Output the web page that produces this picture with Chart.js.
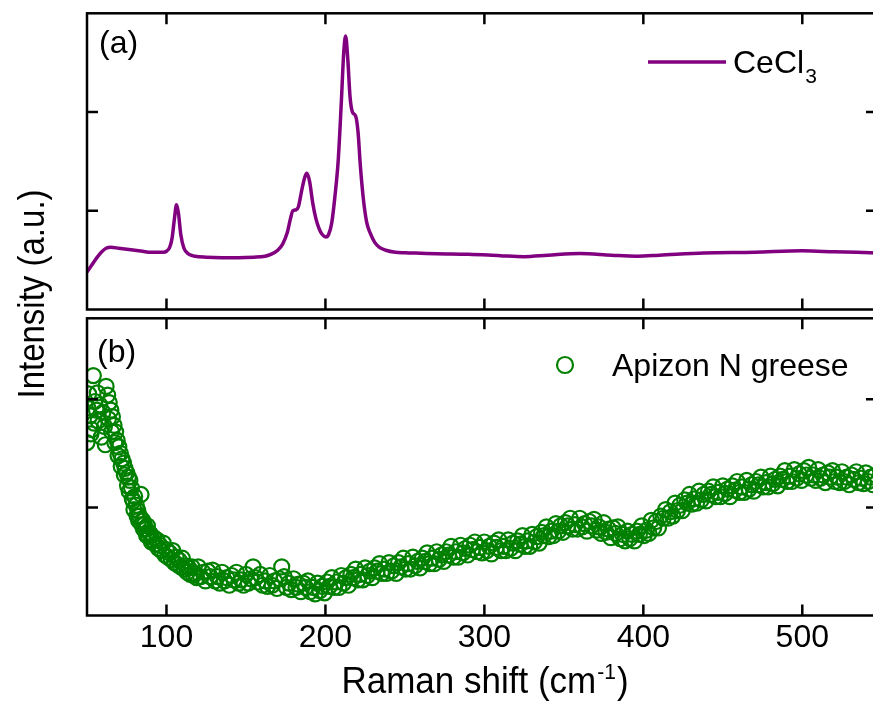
<!DOCTYPE html>
<html>
<head>
<meta charset="utf-8">
<script src="https://cdn.jsdelivr.net/npm/chart.js@4.4.1/dist/chart.umd.min.js"></script>
<style>
html, body { margin: 0; padding: 0; background: #fff; overflow: hidden; }
#wrap { position: relative; width: 873px; height: 713px; overflow: hidden; }
#wrap canvas { position: absolute; left: 0; top: 0; }
</style>
</head>
<body>
<div id="wrap">
  <canvas id="chartB" width="887" height="713"></canvas>
  <canvas id="chartA" width="879" height="713"></canvas>
</div>
<script>
// Tick positions shared by both panels
const xTicks = [100, 200, 300, 400, 500];
const yTicksA = [1, 2];
const yTicksB = [1, 2];

// (a) CeCl3 Raman spectrum
const ceclX = [50, 53, 56, 59, 62, 65, 70, 75, 80, 85, 90, 95, 98, 100, 102, 103.5, 105, 106.3, 107.5, 109, 111, 114, 118,
  125, 135, 145, 155, 162, 166, 170, 173, 176, 178, 179.5, 181.5, 183, 185, 187, 188.3, 190, 192, 194, 196, 198, 200.3,
  202, 204, 206, 208, 210, 211.5, 212.7, 214, 215.5, 217, 219, 220.5, 222, 224, 226, 228, 231, 234, 238, 244, 250, 260,
  270, 290, 310, 325, 340, 360, 380, 396, 410, 438, 470, 500, 520, 547];
const ceclY = [0.38, 0.45, 0.52, 0.58, 0.62, 0.63, 0.62, 0.61, 0.60, 0.59, 0.58, 0.58, 0.58, 0.59, 0.63, 0.72, 0.92, 1.06, 0.98, 0.76, 0.62, 0.56, 0.54,
  0.53, 0.525, 0.525, 0.53, 0.54, 0.56, 0.60, 0.66, 0.78, 0.92, 1.0, 1.01, 1.04, 1.20, 1.34, 1.38, 1.30, 1.08, 0.92, 0.82, 0.76, 0.735,
  0.76, 0.88, 1.15, 1.50, 2.10, 2.60, 2.77, 2.55, 2.15, 2.00, 1.96, 1.80, 1.45, 1.10, 0.88, 0.78, 0.68, 0.63, 0.60, 0.58, 0.575, 0.57,
  0.565, 0.56, 0.545, 0.535, 0.55, 0.567, 0.55, 0.54, 0.55, 0.573, 0.58, 0.594, 0.585, 0.573];

// (b) Apizon N greese spectrum (noisy, read point by point)
const greaseX = [50, 50.5, 51, 52, 52.5, 53, 54, 54.5, 55, 56, 56.5, 57, 58, 59, 60, 61, 61.5, 62, 63, 63.5, 64, 65, 65.5, 66,
  67, 67.5, 68, 69, 69.5, 70, 71, 71.5, 72, 73, 73.5, 74, 75, 75.5, 76, 76.5, 77, 78, 78.5, 79, 79.5, 80, 81, 81.5, 82, 82.5,
  83, 84, 84.5, 85, 85.5, 86, 87, 87.5, 88, 88.5, 89, 90, 90.5, 91, 92, 93, 94, 95, 96, 97, 98, 99, 100, 101, 102, 103, 104,
  105, 106, 107, 108, 109, 110, 111, 112, 113, 114, 115, 116, 117, 118, 119,
  120, 121.5, 123, 124.5, 126, 127.5, 129, 130.5, 132, 133.5, 135, 136.5, 138, 139.5, 141, 142.5, 144, 145.5, 147, 148.5,
  150, 151.5, 153, 154.5, 156, 157.5, 159, 160.5, 162, 163.5, 165, 166.5, 168, 169.5, 171, 172.5, 174, 175.5, 177, 178.5,
  180, 181.5, 183, 184.5, 186, 187.5, 189, 190.5, 192, 193.5, 195, 196.5, 198, 199.5, 201, 202.5, 204, 205.5, 207, 208.5,
  210, 211.5, 213, 214.5, 216, 217.5, 219, 220.5, 222, 223.5, 225, 226.5, 228, 229.5, 231, 232.5, 234, 235.5, 237, 238.5,
  240, 241.5, 243, 244.5, 246, 247.5, 249, 250.5, 252, 253.5, 255, 256.5, 258, 259.5, 261, 262.5, 264, 265.5, 267, 268.5,
  270, 271.5, 273, 274.5, 276, 277.5, 279, 280.5, 282, 283.5, 285, 286.5, 288, 289.5, 291, 292.5, 294, 295.5, 297, 298.5,
  300, 301.5, 303, 304.5, 306, 307.5, 309, 310.5, 312, 313.5, 315, 316.5, 318, 319.5, 321, 322.5, 324, 325.5, 327, 328.5,
  330, 331.5, 333, 334.5, 336, 337.5, 339, 340.5, 342, 343.5, 345, 346.5, 348, 349.5, 351, 352.5, 354, 355.5, 357, 358.5,
  360, 361.5, 363, 364.5, 366, 367.5, 369, 370.5, 372, 373.5, 375, 376.5, 378, 379.5, 381, 382.5, 384, 385.5, 387, 388.5,
  390, 391.5, 393, 394.5, 396, 397.5, 399, 400.5, 402, 403.5, 405, 406.5, 408, 409.5, 411, 412.5, 414, 415.5, 417, 418.5,
  420, 421.5, 423, 424.5, 426, 427.5, 429, 430.5, 432, 433.5, 435, 436.5, 438, 439.5, 441, 442.5, 444, 445.5, 447, 448.5,
  450, 451.5, 453, 454.5, 456, 457.5, 459, 460.5, 462, 463.5, 465, 466.5, 468, 469.5, 471, 472.5, 474, 475.5, 477, 478.5,
  480, 481.5, 483, 484.5, 486, 487.5, 489, 490.5, 492, 493.5, 495, 496.5, 498, 499.5, 501, 502.5, 504, 505.5, 507, 508.5,
  510, 511.5, 513, 514.5, 516, 517.5, 519, 520.5, 522, 523.5, 525, 526.5, 528, 529.5, 531, 532.5, 534, 535.5, 537, 538.5,
  540, 541.5, 543, 544.5, 546];
const greaseY = [1.60, 1.92, 2.05, 1.85, 1.68, 1.72, 2.22, 1.78, 1.98, 1.90, 2.06, 1.80, 1.95, 1.65, 1.88, 1.75, 1.58, 2.12, 2.04, 1.82, 1.97, 1.90, 1.70, 1.84,
  1.76, 1.60, 1.70, 1.62, 1.48, 1.56, 1.50, 1.38, 1.45, 1.41, 1.30, 1.36, 1.32, 1.20, 1.28, 1.15, 1.25, 1.18, 1.08, 1.06, 0.98, 1.10, 1.02, 0.92, 0.97, 0.88,
  0.92, 1.12, 0.84, 0.88, 0.80, 0.84, 0.80, 0.74, 0.83, 0.74, 0.77, 0.75, 0.68, 0.70, 0.72, 0.66, 0.70, 0.62, 0.65, 0.60, 0.67, 0.56, 0.61, 0.54, 0.58, 0.52, 0.60,
  0.49, 0.54, 0.47, 0.51, 0.45, 0.53, 0.43, 0.46, 0.40, 0.44, 0.38, 0.45, 0.37, 0.39, 0.35,
  0.45, 0.36, 0.40, 0.32, 0.41, 0.36, 0.42, 0.32, 0.36, 0.30, 0.40, 0.32, 0.35, 0.28, 0.37, 0.33, 0.40, 0.30, 0.33, 0.28,
  0.38, 0.30, 0.34, 0.45, 0.35, 0.31, 0.38, 0.28, 0.32, 0.27, 0.37, 0.28, 0.32, 0.25, 0.34, 0.45, 0.36, 0.26, 0.30, 0.24,
  0.34, 0.26, 0.29, 0.22, 0.30, 0.26, 0.32, 0.22, 0.26, 0.20, 0.30, 0.23, 0.27, 0.21, 0.31, 0.27, 0.35, 0.26, 0.31, 0.26,
  0.37, 0.30, 0.35, 0.28, 0.38, 0.35, 0.43, 0.33, 0.38, 0.33, 0.44, 0.37, 0.41, 0.35, 0.44, 0.41, 0.48, 0.39, 0.43, 0.39,
  0.49, 0.41, 0.46, 0.39, 0.49, 0.45, 0.53, 0.43, 0.48, 0.43, 0.54, 0.46, 0.50, 0.44, 0.53, 0.50, 0.58, 0.48, 0.53, 0.48,
  0.59, 0.52, 0.56, 0.50, 0.59, 0.56, 0.64, 0.54, 0.59, 0.54, 0.65, 0.58, 0.62, 0.56, 0.65, 0.61, 0.68, 0.59, 0.63, 0.58,
  0.68, 0.60, 0.64, 0.57, 0.67, 0.63, 0.70, 0.60, 0.64, 0.60, 0.70, 0.62, 0.67, 0.60, 0.69, 0.66, 0.74, 0.64, 0.69, 0.64,
  0.75, 0.68, 0.73, 0.67, 0.77, 0.74, 0.82, 0.73, 0.78, 0.74, 0.85, 0.78, 0.83, 0.77, 0.86, 0.83, 0.90, 0.80, 0.84, 0.80,
  0.90, 0.82, 0.85, 0.78, 0.87, 0.83, 0.89, 0.79, 0.82, 0.76, 0.86, 0.77, 0.80, 0.72, 0.81, 0.76, 0.82, 0.71, 0.75, 0.69,
  0.78, 0.71, 0.75, 0.69, 0.78, 0.75, 0.83, 0.74, 0.79, 0.76, 0.88, 0.81, 0.87, 0.81, 0.92, 0.90, 0.98, 0.90, 0.96, 0.92,
  1.04, 0.97, 1.02, 0.97, 1.07, 1.04, 1.12, 1.03, 1.08, 1.04, 1.15, 1.07, 1.12, 1.06, 1.15, 1.12, 1.19, 1.10, 1.14, 1.10,
  1.20, 1.13, 1.17, 1.10, 1.20, 1.16, 1.24, 1.14, 1.19, 1.14, 1.25, 1.17, 1.21, 1.15, 1.24, 1.21, 1.28, 1.19, 1.23, 1.19,
  1.29, 1.22, 1.26, 1.20, 1.29, 1.26, 1.34, 1.24, 1.29, 1.24, 1.35, 1.27, 1.31, 1.25, 1.34, 1.30, 1.37, 1.27, 1.30, 1.25,
  1.35, 1.27, 1.30, 1.23, 1.32, 1.28, 1.34, 1.24, 1.28, 1.23, 1.33, 1.24, 1.28, 1.21, 1.30, 1.26, 1.33, 1.23, 1.27, 1.22,
  1.32, 1.24, 1.28, 1.21, 1.30];

const FONT = "'Liberation Sans', Arial, sans-serif";
const PURPLE = '#800080';
const GREEN = '#008000';
const TICK = 11;

// frame + inward ticks on all four sides (right side sits just past the visible edge)
function drawFrame(chart, yTicks) {
  const { ctx, chartArea: a, scales } = chart;
  ctx.save();
  ctx.strokeStyle = '#000';
  ctx.lineWidth = 2.5;
  ctx.strokeRect(a.left, a.top, a.right - a.left, a.bottom - a.top);
  ctx.beginPath();
  xTicks.forEach(v => {
    const x = scales.x.getPixelForValue(v);
    ctx.moveTo(x, a.top); ctx.lineTo(x, a.top + TICK);
    ctx.moveTo(x, a.bottom); ctx.lineTo(x, a.bottom - TICK);
  });
  yTicks.forEach(v => {
    const y = scales.y.getPixelForValue(v);
    ctx.moveTo(a.left, y); ctx.lineTo(a.left + TICK, y);
    ctx.moveTo(a.right, y); ctx.lineTo(a.right - TICK, y);
  });
  ctx.stroke();
  ctx.restore();
}

const panelA = {
  id: 'panelA',
  afterDatasetsDraw(chart) {
    const ctx = chart.ctx;
    drawFrame(chart, yTicksA);
    ctx.save();
    ctx.fillStyle = '#000';
    ctx.textBaseline = 'alphabetic';
    ctx.font = `32px ${FONT}`;
    ctx.fillText('(a)', 99, 53);
    // legend
    ctx.strokeStyle = PURPLE;
    ctx.lineWidth = 3.5;
    ctx.beginPath();
    ctx.moveTo(648, 62); ctx.lineTo(726, 62);
    ctx.stroke();
    ctx.fillText('CeCl', 733, 73);
    const w = ctx.measureText('CeCl').width;
    ctx.font = `21px ${FONT}`;
    ctx.fillText('3', 733 + w + 1, 83);
    ctx.restore();
  }
};

const panelB = {
  id: 'panelB',
  afterDatasetsDraw(chart) {
    const ctx = chart.ctx;
    drawFrame(chart, yTicksB);
    ctx.save();
    ctx.fillStyle = '#000';
    ctx.textBaseline = 'alphabetic';
    ctx.font = `32px ${FONT}`;
    ctx.fillText('(b)', 97, 362);
    // legend
    ctx.strokeStyle = GREEN;
    ctx.lineWidth = 2.2;
    ctx.beginPath();
    ctx.arc(565, 365, 8, 0, Math.PI * 2);
    ctx.stroke();
    ctx.fillText('Apizon N greese', 612, 376);

    // x title with superscript, slightly tall letters like the original
    const big = `35px ${FONT}`, small = `21px ${FONT}`;
    ctx.font = big;
    const t1 = 'Raman shift (cm', t3 = ')';
    const w1 = ctx.measureText(t1).width, w3 = ctx.measureText(t3).width;
    ctx.font = small;
    const w2 = ctx.measureText('-1').width;
    const x = 485 - (w1 + w2 + w3 + 2) / 2;
    ctx.save();
    ctx.translate(x, 693);
    ctx.scale(1, 1.08);
    ctx.font = big;
    ctx.fillText(t1, 0, 0);
    ctx.font = small;
    ctx.fillText('-1', w1 + 1, -13);
    ctx.font = big;
    ctx.fillText(t3, w1 + w2 + 2, 0);
    ctx.restore();

    // y title spanning both panels
    ctx.translate(44, 294);
    ctx.rotate(-Math.PI / 2);
    ctx.scale(1, 1.14);
    ctx.textAlign = 'center';
    ctx.font = `33px ${FONT}`;
    ctx.fillText('Intensity (a.u.)', 0, 0);
    ctx.restore();
  }
};

// canvas 879 wide, right padding 2 -> plot right edge at 877 (just off screen)
new Chart(document.getElementById('chartA'), {
  type: 'line',
  data: {
    datasets: [{
      label: 'CeCl3',
      data: ceclX.map((x, i) => ({ x: x, y: ceclY[i] })),
      borderColor: PURPLE,
      borderWidth: 3.5,
      pointRadius: 0,
      cubicInterpolationMode: 'monotone',
      fill: false
    }]
  },
  options: {
    responsive: false,
    animation: false,
    layout: { padding: { left: 87, right: 2, top: 13.3, bottom: 713 - 309.5 } },
    plugins: { legend: { display: false }, tooltip: { enabled: false } },
    scales: {
      x: { type: 'linear', min: 50, max: 547, display: false },
      y: { min: 0, max: 3, display: false }
    }
  },
  plugins: [panelA]
});

// canvas 887 wide, right padding 10 (covers the point overflow) -> plot right edge at 877
new Chart(document.getElementById('chartB'), {
  type: 'line',
  data: {
    datasets: [{
      label: 'Apizon N greese',
      data: greaseX.map((x, i) => ({ x: x, y: greaseY[i] })),
      showLine: false,
      borderColor: GREEN,
      backgroundColor: 'rgba(255,255,255,0)',
      pointBorderColor: GREEN,
      pointBackgroundColor: 'rgba(255,255,255,0)',
      pointRadius: 7.5,
      pointBorderWidth: 2.2
    }]
  },
  options: {
    responsive: false,
    animation: false,
    layout: { padding: { left: 87, right: 10, top: 318.3, bottom: 0 } },
    plugins: { legend: { display: false }, tooltip: { enabled: false } },
    scales: {
      x: {
        type: 'linear', min: 50, max: 547,
        grid: { display: false, drawTicks: false },
        border: { display: false },
        ticks: { color: '#000', font: { family: FONT, size: 32 }, padding: 3, autoSkip: false, maxRotation: 0 },
        afterBuildTicks: s => { s.ticks = xTicks.map(v => ({ value: v })); },
        afterFit: s => { s.height = 713 - 615.5; }
      },
      y: { min: 0, max: 2.75, display: false }
    }
  },
  plugins: [panelB]
});
</script>
</body>
</html>
